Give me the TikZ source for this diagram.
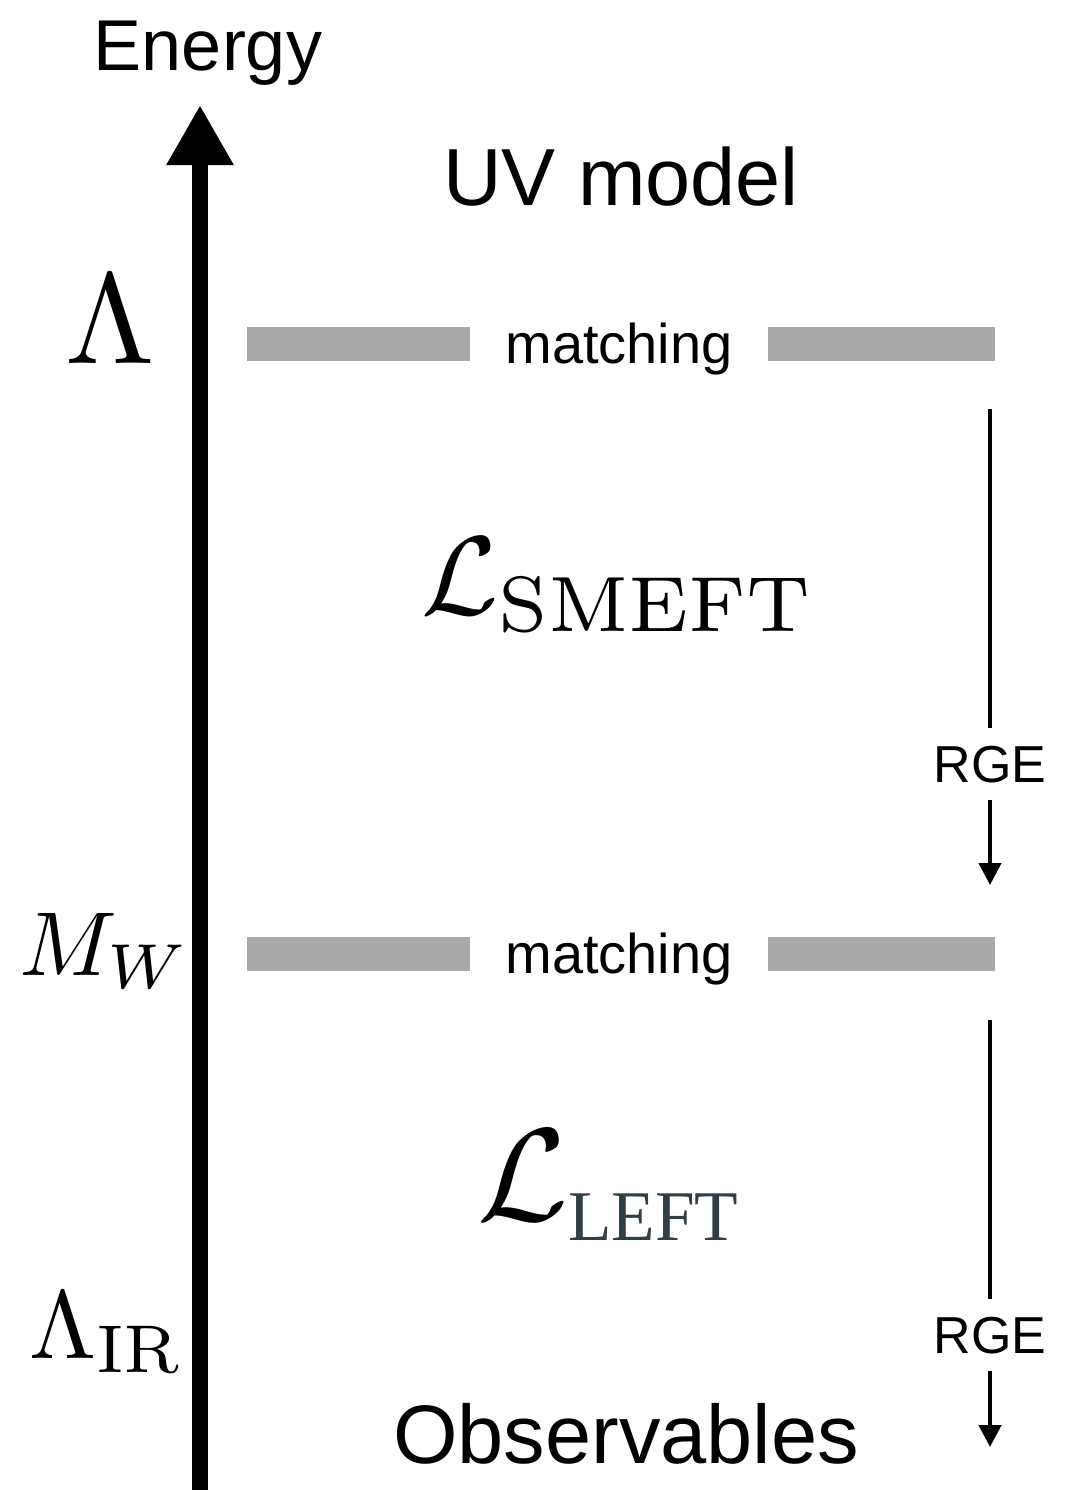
\documentclass[tikz,border=0pt]{standalone}
\usepackage{amsmath}
\usepackage[no-math]{fontspec}
\newfontfamily\helvfont{Liberation Sans}
\newfontfamily\timesfont{Liberation Serif}
\usetikzlibrary{arrows.meta}
\definecolor{barGray}{HTML}{A9A9A9}
\definecolor{leftSlate}{HTML}{2F3F43}
\tikzset{
  sanslabel/.style={inner sep=0pt, anchor=base, font=\helvfont\fontsize{#1}{#1}\selectfont},
  mathlabel/.style={inner sep=0pt, anchor=base, scale=#1},
  matchlabel/.style={sanslabel=28, inner xsep=17.5pt},
  matchbar/.style={barGray, line width=17pt},
  rgelabel/.style={sanslabel=26, inner xsep=3pt, inner ysep=8.5pt},
  rgeline/.style={line width=2.2pt},
  rgearrow/.style={rgeline, -{Triangle[width=11pt,length=11pt]}},
  energyaxis/.style={line width=8pt, -{Triangle[width=31.5pt,length=30pt]}}
}

\begin{document}
\begin{tikzpicture}[x=0.5pt, y=-0.5pt]
  \useasboundingbox (0,0) rectangle (1066,1490);

  % energy axis
  \coordinate (axisBot) at (200,1490);
  \coordinate (axisTop) at (200,105);
  \draw[energyaxis] (axisBot) -- (axisTop);
  \node[sanslabel=36] (energy) at (208,70) {Energy};

  % scales
  \node[mathlabel=6.44] (lam) at (110,363) {$\Lambda$};
  \node[mathlabel=4.54] (mw) at (105,975) {$M_W$};
  \node[mathlabel=4.83] (lamir) at (107,1358) {$\Lambda_{\mathrm{IR}}$};

  % theories
  \node[sanslabel=40.5] (uv) at (621,205) {UV model};
  \node[inner sep=0pt, scale=5.6] (smeft) at (619,585) {$\mathcal{L}_{\mathrm{SMEFT}}$};
  \node[inner sep=0pt, scale=6.6] (lleft) at (611,1185)
    {$\mathcal{L}_{\mbox{\timesfont\color{leftSlate}\fontsize{5.4}{6}\selectfont LEFT}}$};
  \node[sanslabel=41.5] (obs) at (626,1463) {Observables};

  % matching at Lambda
  \node[matchlabel] (match1) at (619,363) {matching};
  \coordinate (barA1) at (247,343.5);
  \coordinate (barB1) at (995,343.5);
  \draw[matchbar] (barA1) -- (barA1 -| match1.west);
  \draw[matchbar] (barB1 -| match1.east) -- (barB1);

  % matching at M_W
  \node[matchlabel] (match2) at (619,973) {matching};
  \coordinate (barA2) at (247,953.5);
  \coordinate (barB2) at (995,953.5);
  \draw[matchbar] (barA2) -- (barA2 -| match2.west);
  \draw[matchbar] (barB2 -| match2.east) -- (barB2);

  % running
  \coordinate (rgeTop1) at (990,409);
  \node[rgelabel] (rge1) at (990,782) {RGE};
  \coordinate (rgeBot1) at (990,885);
  \draw[rgeline] (rgeTop1) -- (rge1);
  \draw[rgearrow] (rge1) -- (rgeBot1);

  \coordinate (rgeTop2) at (990,1020);
  \node[rgelabel] (rge2) at (990,1353) {RGE};
  \coordinate (rgeBot2) at (990,1447);
  \draw[rgeline] (rgeTop2) -- (rge2);
  \draw[rgearrow] (rge2) -- (rgeBot2);
\end{tikzpicture}
\end{document}
